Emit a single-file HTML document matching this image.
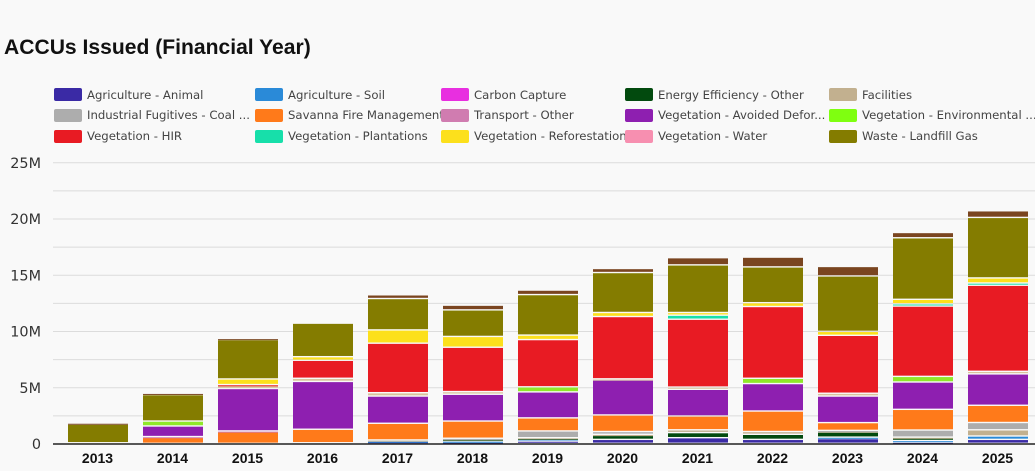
<!DOCTYPE html>
<html lang="en">
<head>
<meta charset="utf-8">
<title>ACCUs Issued (Financial Year)</title>
<style>
html,body{margin:0;padding:0;background:#f9f9f9;}
#root{position:relative;width:1035px;height:471px;overflow:hidden;background:#f9f9f9;font-family:"DejaVu Sans","Liberation Sans",sans-serif;color:#333;}
#title{position:absolute;left:4px;top:36px;font:bold 21.1px "Liberation Sans",sans-serif;color:#111;white-space:nowrap;}
.sw{position:absolute;width:28px;height:13px;border-radius:2px;z-index:2;}
.lt{position:absolute;font-size:11.7px;line-height:16px;height:16px;white-space:nowrap;overflow:hidden;color:#444;}
#chart{position:absolute;left:0;top:0;}
</style>
</head>
<body>
<div id="root">
  <div id="title">ACCUs Issued (Financial Year)</div>

  <div>
    <div>
      <div class="sw" style="left:54px;top:88px;background:#3a2aa5"></div><div class="lt" style="left:87px;top:87px;width:166px">Agriculture - Animal</div>
    </div>
    <div>
      <div class="sw" style="left:255px;top:88px;background:#2a8ad8"></div><div class="lt" style="left:288px;top:87px;width:152px">Agriculture - Soil</div>
    </div>
    <div>
      <div class="sw" style="left:441px;top:88px;background:#e82fe0"></div><div class="lt" style="left:474px;top:87px;width:150px">Carbon Capture</div>
    </div>
    <div>
      <div class="sw" style="left:625px;top:88px;background:#024a0e"></div><div class="lt" style="left:658px;top:87px;width:170px">Energy Efficiency - Other</div>
    </div>
    <div>
      <div class="sw" style="left:829px;top:88px;background:#c2b08f"></div><div class="lt" style="left:862px;top:87px;width:170px">Facilities</div>
    </div>

    <div>
      <div class="sw" style="left:54px;top:109px;background:#adadad"></div><div class="lt" style="left:87px;top:107px;width:168px">Industrial Fugitives - Coal ...</div>
    </div>
    <div>
      <div class="sw" style="left:255px;top:109px;background:#ff7a1a"></div><div class="lt" style="left:288px;top:107px;width:153px">Savanna Fire Management</div>
    </div>
    <div>
      <div class="sw" style="left:441px;top:109px;background:#d07cb0"></div><div class="lt" style="left:474px;top:107px;width:150px">Transport - Other</div>
    </div>
    <div>
      <div class="sw" style="left:625px;top:109px;background:#8e1fb0"></div><div class="lt" style="left:658px;top:107px;width:171px">Vegetation - Avoided Defor...</div>
    </div>
    <div>
      <div class="sw" style="left:829px;top:109px;background:#7fff10"></div><div class="lt" style="left:862px;top:107px;width:173px">Vegetation - Environmental ...</div>
    </div>

    <div>
      <div class="sw" style="left:54px;top:130px;background:#e81b23"></div><div class="lt" style="left:87px;top:128px;width:166px">Vegetation - HIR</div>
    </div>
    <div>
      <div class="sw" style="left:255px;top:130px;background:#17dfaa"></div><div class="lt" style="left:288px;top:128px;width:152px">Vegetation - Plantations</div>
    </div>
    <div>
      <div class="sw" style="left:441px;top:130px;background:#fce01c"></div><div class="lt" style="left:474px;top:128px;width:151px">Vegetation - Reforestation</div>
    </div>
    <div>
      <div class="sw" style="left:625px;top:130px;background:#f78fb0"></div><div class="lt" style="left:658px;top:128px;width:170px">Vegetation - Water</div>
    </div>
    <div>
      <div class="sw" style="left:829px;top:130px;background:#847c00"></div><div class="lt" style="left:862px;top:128px;width:170px">Waste - Landfill Gas</div>
    </div>
  </div>

  <svg id="chart" width="1035" height="471"></svg>
</div>

<script>
const years = ['2013','2014','2015','2016','2017','2018','2019','2020','2021','2022','2023','2024','2025'];
const gridValues = [2.5,5,7.5,10,12.5,15,17.5,20,22.5,25];
const tickValues = [0,5,10,15,20,25];
const tickLabels = ['0','5M','10M','15M','20M','25M'];

const agricultureAnimal = [0,0,0,0,0.15,0.1,0.2,0.35,0.5,0.35,0.42,0.1,0.35];
const agricultureSoil = [0,0,0,0,0.05,0.1,0.2,0,0,0,0.13,0.15,0.3];
const carbonCapture = [0,0,0,0,0,0,0,0,0,0,0,0,0];
const energyEfficiency = [0,0,0,0,0,0.15,0.05,0.35,0.45,0.45,0.45,0.25,0];
const facilities = [0,0,0,0.05,0.1,0.05,0.05,0.1,0.25,0.25,0.1,0.05,0.55];
const industrialFugitives = [0,0,0,0,0,0.05,0.6,0.25,0,0,0.05,0.63,0.65];
const savannaFire = [0,0.55,1.05,1.2,1.48,1.53,1.16,1.47,1.23,1.82,0.69,1.84,1.53];
const transportOther = [0,0.05,0.05,0,0,0,0,0,0,0,0,0,0];
const avoidedDeforestation = [0,0.94,3.77,4.25,2.42,2.38,2.31,3.11,2.37,2.44,2.36,2.43,2.79];
const vegetationOther = [0,0,0.3,0.28,0.3,0.24,0,0.1,0.2,0,0.25,0,0.23];
const environmental = [0,0.44,0,0,0,0,0.45,0,0,0.47,0,0.5,0];
const vegetationHir = [0,0,0.05,1.6,4.4,3.94,4.2,5.54,6.03,6.38,5.15,6.25,7.65];
const plantations = [0,0,0,0,0,0,0,0,0.36,0,0,0.2,0.2];
const reforestation = [0.05,0,0.5,0.32,1.18,0.96,0.4,0.36,0.24,0.34,0.35,0.4,0.45];
const vegetationWater = [0,0,0,0,0,0,0,0,0,0,0,0,0];
const landfillGas = [1.65,2.35,3.5,2.98,2.79,2.36,3.6,3.55,4.23,3.18,4.93,5.47,5.38];
const wasteOther = [0.1,0.12,0.1,0,0.33,0.42,0.4,0.36,0.64,0.87,0.84,0.47,0.59];

const stackOrder = [
  ['agriculture-animal', agricultureAnimal, '#3a2aa5'],
  ['agriculture-soil', agricultureSoil, '#2a8ad8'],
  ['carbon-capture', carbonCapture, '#e82fe0'],
  ['energy-efficiency', energyEfficiency, '#024a0e'],
  ['facilities', facilities, '#c2b08f'],
  ['industrial-fugitives', industrialFugitives, '#adadad'],
  ['savanna-fire', savannaFire, '#ff7a1a'],
  ['transport-other', transportOther, '#d07cb0'],
  ['avoided-deforestation', avoidedDeforestation, '#8e1fb0'],
  ['vegetation-other', vegetationOther, '#d9c39c'],
  ['environmental', environmental, '#8fe82a'],
  ['vegetation-hir', vegetationHir, '#e81b23'],
  ['plantations', plantations, '#17dfaa'],
  ['reforestation', reforestation, '#fce01c'],
  ['vegetation-water', vegetationWater, '#f78fb0'],
  ['landfill-gas', landfillGas, '#847c00'],
  ['waste-other', wasteOther, '#7a4520']
];

const svg = document.getElementById('chart');
const NS = 'http://www.w3.org/2000/svg';
const baseY = 444;
const pxPerMillion = 11.25;
const firstBarLeft = 68;
const barStep = 75;
const barWidth = 60;
const plotLeft = 53;
const plotRight = 1035;
const segmentGap = 1.4;

function yScale(v){ return baseY - v * pxPerMillion; }
function xScale(i){ return firstBarLeft + i * barStep; }
function make(tag, attrs){
  const el = document.createElementNS(NS, tag);
  for (const k in attrs) el.setAttribute(k, attrs[k]);
  return el;
}

gridValues.forEach(function(v){
  const line = make('line', {x1:plotLeft, x2:plotRight, y1:yScale(v), y2:yScale(v), stroke:'#dcdcdc', 'stroke-width':1});
  
  
  svg.appendChild(line);
});

tickValues.forEach(function(v, i){
  const t = make('text', {x:41, y:yScale(v)+5, 'text-anchor':'end', 'font-size':14.4, fill:'#333', 'font-family':'"DejaVu Sans","Liberation Sans",sans-serif'});
  t.textContent = tickLabels[i];
  
  
  svg.appendChild(t);
});

years.forEach(function(year, i){
  let cumulative = 0;
  stackOrder.forEach(function(series){
    const value = series[1][i];
    if (value <= 0) return;
    const top = yScale(cumulative + value);
    const bottom = yScale(cumulative);
    const drawn = Math.max(bottom - top - segmentGap, 1);
    const rect = make('rect', {x:xScale(i), y:top, width:barWidth, height:drawn, fill:series[2]});
    
    
    svg.appendChild(rect);
    cumulative += value;
  });
  const label = make('text', {x:xScale(i)+barWidth/2-0.5, y:463, 'text-anchor':'middle', 'font-size':14, 'font-weight':'bold', fill:'#111', 'font-family':'"Liberation Sans",sans-serif'});
  label.textContent = year;
  
  
  svg.appendChild(label);
});

const axis = make('line', {x1:plotLeft, x2:plotRight, y1:baseY, y2:baseY, stroke:'#222', 'stroke-width':1.5});


svg.appendChild(axis);
</script>
</body>
</html>
